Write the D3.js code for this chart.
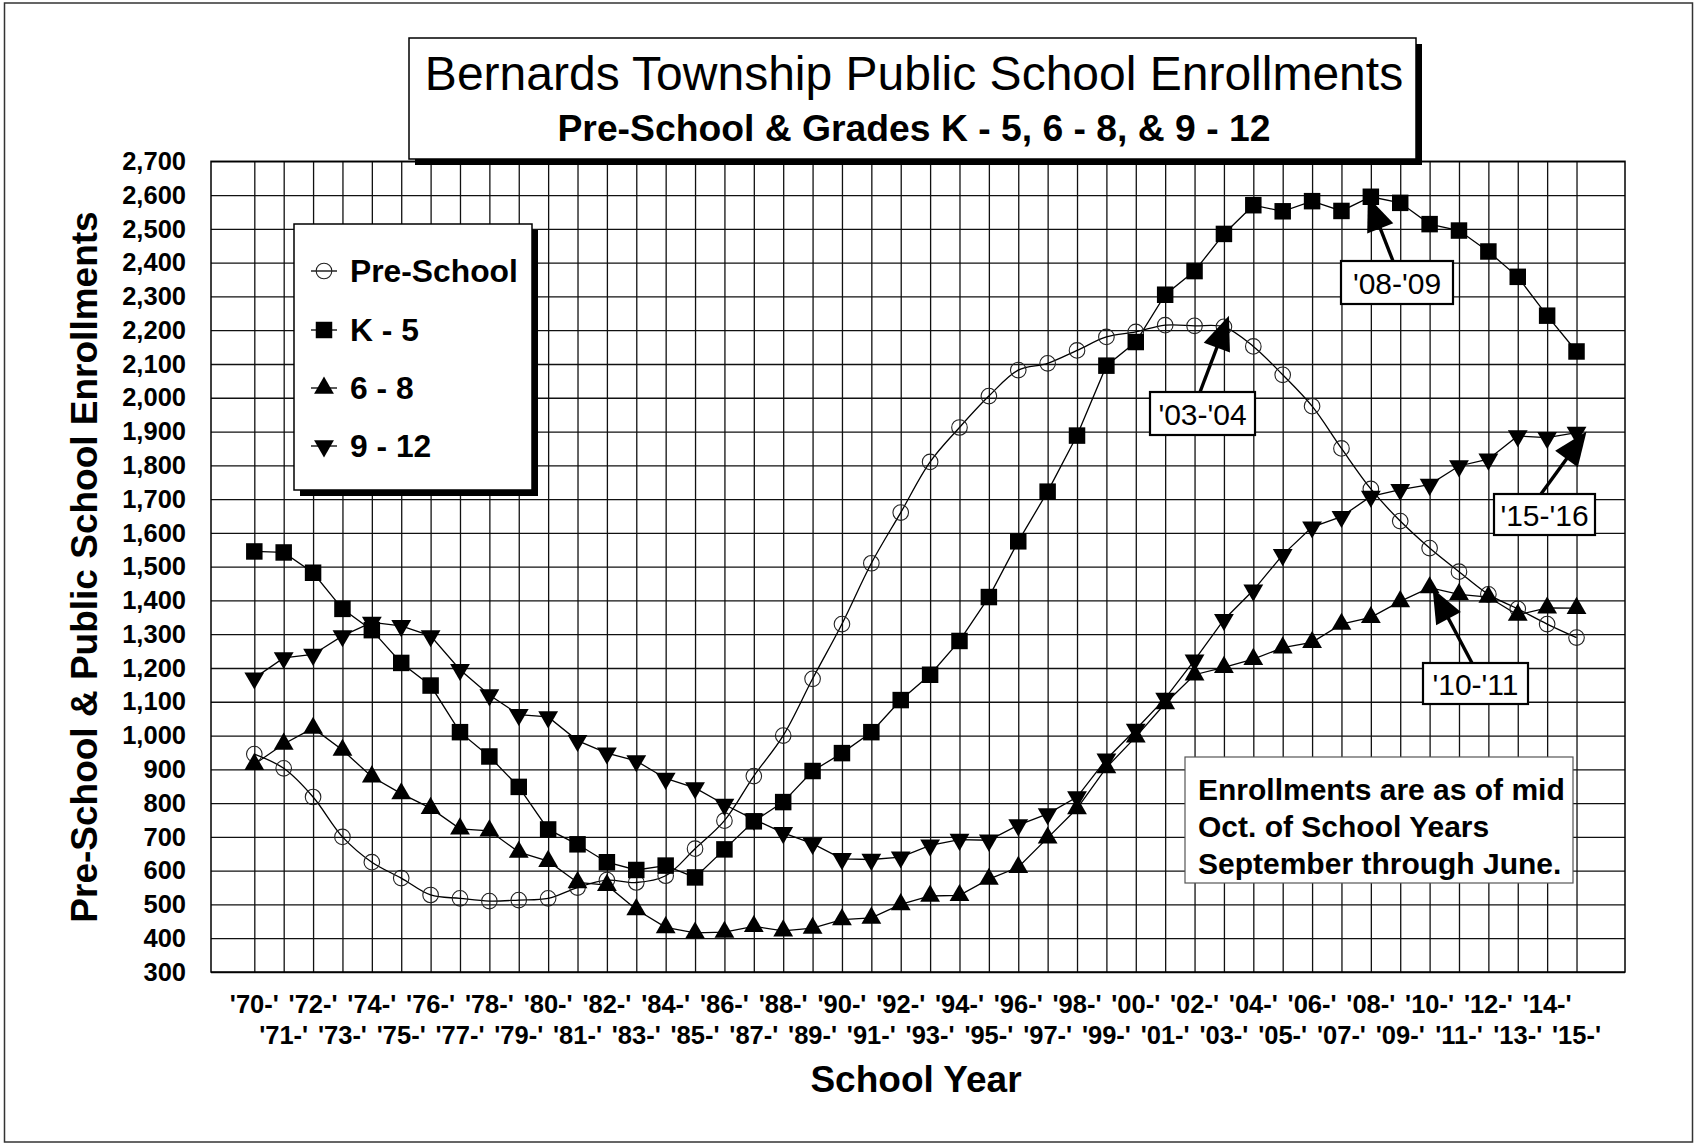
<!DOCTYPE html>
<html>
<head>
<meta charset="utf-8">
<script src="https://cdn.jsdelivr.net/npm/d3@7"></script>
<style>
  body { margin: 0; background: #fff; }
  svg { display: block; font-family: "Liberation Sans", Arial, sans-serif; }
</style>
</head>
<body>
<svg id="chart" width="1697" height="1145"></svg>
<script>
// school years, '70-'71 through '15-'16 (tick labels as printed)
const yearLabels = ["'70-'", "'71-'", "'72-'", "'73-'", "'74-'", "'75-'", "'76-'", "'77-'", "'78-'", "'79-'",
  "'80-'", "'81-'", "'82-'", "'83-'", "'84-'", "'85-'", "'86-'", "'87-'", "'88-'", "'89-'",
  "'90-'", "'91-'", "'92-'", "'93-'", "'94-'", "'95-'", "'96-'", "'97-'", "'98-'", "'99-'",
  "'00-'", "'01-'", "'02-'", "'03-'", "'04-'", "'05-'", "'06-'", "'07-'", "'08-'", "'09-'",
  "'10-'", "'11-'", "'12-'", "'13-'", "'14-'", "'15-'"];

const preSchool = [945, 903, 818, 700, 625, 578, 528, 518, 510, 513,
  518, 550, 572, 565, 585, 665, 748, 880, 1000, 1168,
  1330, 1510, 1660, 1810, 1912, 2005, 2082, 2102, 2140, 2180,
  2195, 2215, 2213, 2210, 2152, 2068, 1975, 1850, 1730, 1635,
  1555, 1485, 1418, 1375, 1330, 1290];

const gradesK5 = [1545, 1542, 1482, 1375, 1312, 1215, 1148, 1010, 938, 848,
  722, 678, 625, 602, 615, 580, 663, 746, 803, 895,
  948, 1010, 1105, 1180, 1280, 1410, 1575, 1722, 1888, 2095,
  2165, 2305, 2375, 2485, 2570, 2552, 2582, 2553, 2595, 2577,
  2514, 2495, 2433, 2358, 2243, 2137];

const grades68 = [915, 975, 1022, 957, 878, 828, 785, 724, 718, 655,
  628, 565, 557, 485, 432, 416, 418, 435, 422, 430,
  455, 460, 500, 525, 527, 575, 610, 697, 784, 905,
  996, 1095, 1180, 1202, 1226, 1260, 1276, 1330, 1350, 1397,
  1438, 1418, 1410, 1357, 1378, 1377];

const grades912 = [1170, 1230, 1240, 1295, 1335, 1325, 1295, 1195, 1120, 1062,
  1055, 985, 948, 925, 873, 845, 796, 752, 712, 680,
  635, 633, 640, 675, 692, 690, 735, 768, 818, 930,
  1018, 1110, 1223, 1343, 1430, 1535, 1617, 1648, 1708, 1728,
  1743, 1798, 1818, 1887, 1882, 1897];

const yTicks = d3.range(300, 2701, 100);

const seriesNames = ["Pre-School", "K - 5", "6 - 8", "9 - 12"];

// callouts: label, series, year index
const calloutLabels = ["'08-'09", "'03-'04", "'15-'16", "'10-'11"];

const svg = d3.select("#chart");
const plot = {left: 211, right: 1625, top: 161.3, bottom: 972};

const x = d3.scaleLinear().domain([-1.474, 46.65]).range([plot.left, plot.right]);
const y = d3.scaleLinear().domain([300, 2700]).range([plot.bottom, plot.top]);

// page frame
svg.append("rect")
  .attr("x", 4.5).attr("y", 3).attr("width", 1688).attr("height", 1139)
  .attr("fill", "none").attr("stroke", "#333").attr("stroke-width", 1.5);

// GRID
const gx = svg.append("g")
  .attr("transform", `translate(0, ${plot.bottom})`)
  .call(d3.axisBottom(x).tickValues(d3.range(yearLabels.length))
    .tickSize(-(plot.bottom - plot.top)).tickFormat(""));
gx.select(".domain").remove();
gx.selectAll("line").attr("stroke", "#111").attr("stroke-width", 1.3);

const gy = svg.append("g")
  .attr("transform", `translate(${plot.left}, 0)`)
  .call(d3.axisLeft(y).tickValues(yTicks)
    .tickSize(-(plot.right - plot.left)).tickPadding(25).tickFormat(d3.format(",")));
gy.select(".domain").remove();
gy.selectAll("line").attr("stroke", "#111").attr("stroke-width", 1.3);
gy.selectAll("text")
  .attr("font-size", 25.5).attr("font-weight", "bold").attr("fill", "#000")
  .attr("font-family", "'Liberation Sans', Arial, sans-serif");

svg.append("rect")
  .attr("x", plot.left).attr("y", plot.top)
  .attr("width", plot.right - plot.left).attr("height", plot.bottom - plot.top)
  .attr("fill", "none").attr("stroke", "#000").attr("stroke-width", 1.5);

// x labels in two staggered rows
svg.append("g").selectAll("text")
  .data(yearLabels)
  .enter().append("text")
  .attr("x", (d, i) => x(i))
  .attr("y", (d, i) => i % 2 === 0 ? 1013 : 1044)
  .attr("text-anchor", "middle")
  .attr("font-size", 25.5).attr("font-weight", "bold")
  .text(d => d);

svg.append("text")
  .attr("x", 916).attr("y", 1092)
  .attr("text-anchor", "middle")
  .attr("font-size", 37).attr("font-weight", "bold")
  .text("School Year");

svg.append("text")
  .attr("transform", "translate(97, 567) rotate(-90)")
  .attr("text-anchor", "middle")
  .attr("font-size", 37).attr("font-weight", "bold")
  .text("Pre-School & Public School Enrollments");

// SERIES
const symSquare = d3.symbol().type(d3.symbolSquare).size(272);
const symTri = d3.symbol().type(d3.symbolTriangle).size(170);

function drawMarker(g, kind) {
  if (kind === 0) {
    return g.append("circle").attr("r", 7.8)
      .attr("fill", "none").attr("stroke", "#222").attr("stroke-width", 1.1);
  }
  if (kind === 1) return g.append("path").attr("d", symSquare()).attr("fill", "#000");
  const p = g.append("path").attr("d", symTri()).attr("fill", "#000");
  if (kind === 3) p.attr("transform", "rotate(180)");
  return p;
}

const allSeries = [preSchool, gradesK5, grades68, grades912];

allSeries.forEach((values, k) => {
  const lineGen = d3.line()
    .x((d, i) => x(i))
    .y(d => y(d))
    .curve(k === 0 ? d3.curveCatmullRom : d3.curveLinear);
  svg.append("path")
    .attr("d", lineGen(values))
    .attr("fill", "none").attr("stroke", "#000").attr("stroke-width", 1.3);
});

allSeries.forEach((values, k) => {
  const pts = svg.append("g").selectAll("g")
    .data(values)
    .enter().append("g")
    .attr("transform", (d, i) => `translate(${x(i)}, ${y(d)})`);
  pts.each(function() { drawMarker(d3.select(this), k); });
});

// TITLE BOX
svg.append("rect").attr("x", 415).attr("y", 44).attr("width", 1007).attr("height", 121).attr("fill", "#000");
svg.append("rect").attr("x", 409).attr("y", 38).attr("width", 1007).attr("height", 121)
  .attr("fill", "#fff").attr("stroke", "#000").attr("stroke-width", 1.5);
svg.append("text").attr("x", 914).attr("y", 90).attr("text-anchor", "middle")
  .attr("font-size", 48).text("Bernards Township Public School Enrollments");
svg.append("text").attr("x", 914).attr("y", 141).attr("text-anchor", "middle")
  .attr("font-size", 37.3).attr("font-weight", "bold")
  .text("Pre-School & Grades K - 5, 6 - 8, & 9 - 12");

// LEGEND
svg.append("rect").attr("x", 300).attr("y", 230).attr("width", 238).attr("height", 266).attr("fill", "#000");
svg.append("rect").attr("x", 294).attr("y", 224).attr("width", 238).attr("height", 266)
  .attr("fill", "#fff").attr("stroke", "#000").attr("stroke-width", 1.5);
const legendY = [271, 330, 388, 446];
seriesNames.forEach((name, k) => {
  const row = svg.append("g").attr("transform", `translate(0, ${legendY[k]})`);
  row.append("line").attr("x1", 311).attr("x2", 337).attr("stroke", "#000").attr("stroke-width", 1.3);
  drawMarker(row.append("g").attr("transform", "translate(324, 0)"), k);
  row.append("text").attr("x", 350).attr("y", 11)
    .attr("font-size", 31.8).attr("font-weight", "bold").text(name);
});

// CALLOUTS
const callouts = [
  {label: calloutLabels[0], series: gradesK5, i: 38, box: [1341, 261, 112, 43], tail: [1393, 261], off: [-3, 0]},
  {label: calloutLabels[1], series: preSchool, i: 33, box: [1150, 392, 105, 43], tail: [1200, 392], off: [5, -11]},
  {label: calloutLabels[2], series: grades912, i: 45, box: [1494, 494, 101, 41], tail: [1541, 494], off: [10, -1]},
  {label: calloutLabels[3], series: grades68, i: 40, box: [1423, 663, 105, 41], tail: [1472, 663], off: [3, 1]}
];
callouts.forEach(c => {
  const tip = [x(c.i) + c.off[0], y(c.series[c.i]) + c.off[1]];
  const dx = tip[0] - c.tail[0], dy = tip[1] - c.tail[1];
  const len = Math.sqrt(dx * dx + dy * dy);
  const ux = dx / len, uy = dy / len;
  const headLen = 34, headW = 14;
  const bx = tip[0] - ux * headLen, by = tip[1] - uy * headLen;
  svg.append("line")
    .attr("x1", c.tail[0]).attr("y1", c.tail[1]).attr("x2", bx + ux * 4).attr("y2", by + uy * 4)
    .attr("stroke", "#000").attr("stroke-width", 3.4);
  svg.append("path")
    .attr("d", `M${tip[0]},${tip[1]}L${bx - uy * headW},${by + ux * headW}L${bx + uy * headW},${by - ux * headW}Z`)
    .attr("fill", "#000");
  svg.append("rect")
    .attr("x", c.box[0]).attr("y", c.box[1]).attr("width", c.box[2]).attr("height", c.box[3])
    .attr("fill", "#fff").attr("stroke", "#000").attr("stroke-width", 2.2);
  svg.append("text")
    .attr("x", c.box[0] + c.box[2] / 2).attr("y", c.box[1] + c.box[3] / 2 + 11)
    .attr("text-anchor", "middle").attr("font-size", 30).text(c.label);
});

// NOTE
const noteLines = ["Enrollments are as of mid", "Oct. of School Years", "September through June."];
svg.append("rect").attr("x", 1185).attr("y", 757).attr("width", 388).attr("height", 126)
  .attr("fill", "#fff").attr("stroke", "#555").attr("stroke-width", 1.2);
svg.append("g").selectAll("text")
  .data(noteLines)
  .enter().append("text")
  .attr("x", 1198).attr("y", (d, i) => 800 + i * 37)
  .attr("font-size", 30).attr("font-weight", "bold")
  .text(d => d);
</script>
</body>
</html>
